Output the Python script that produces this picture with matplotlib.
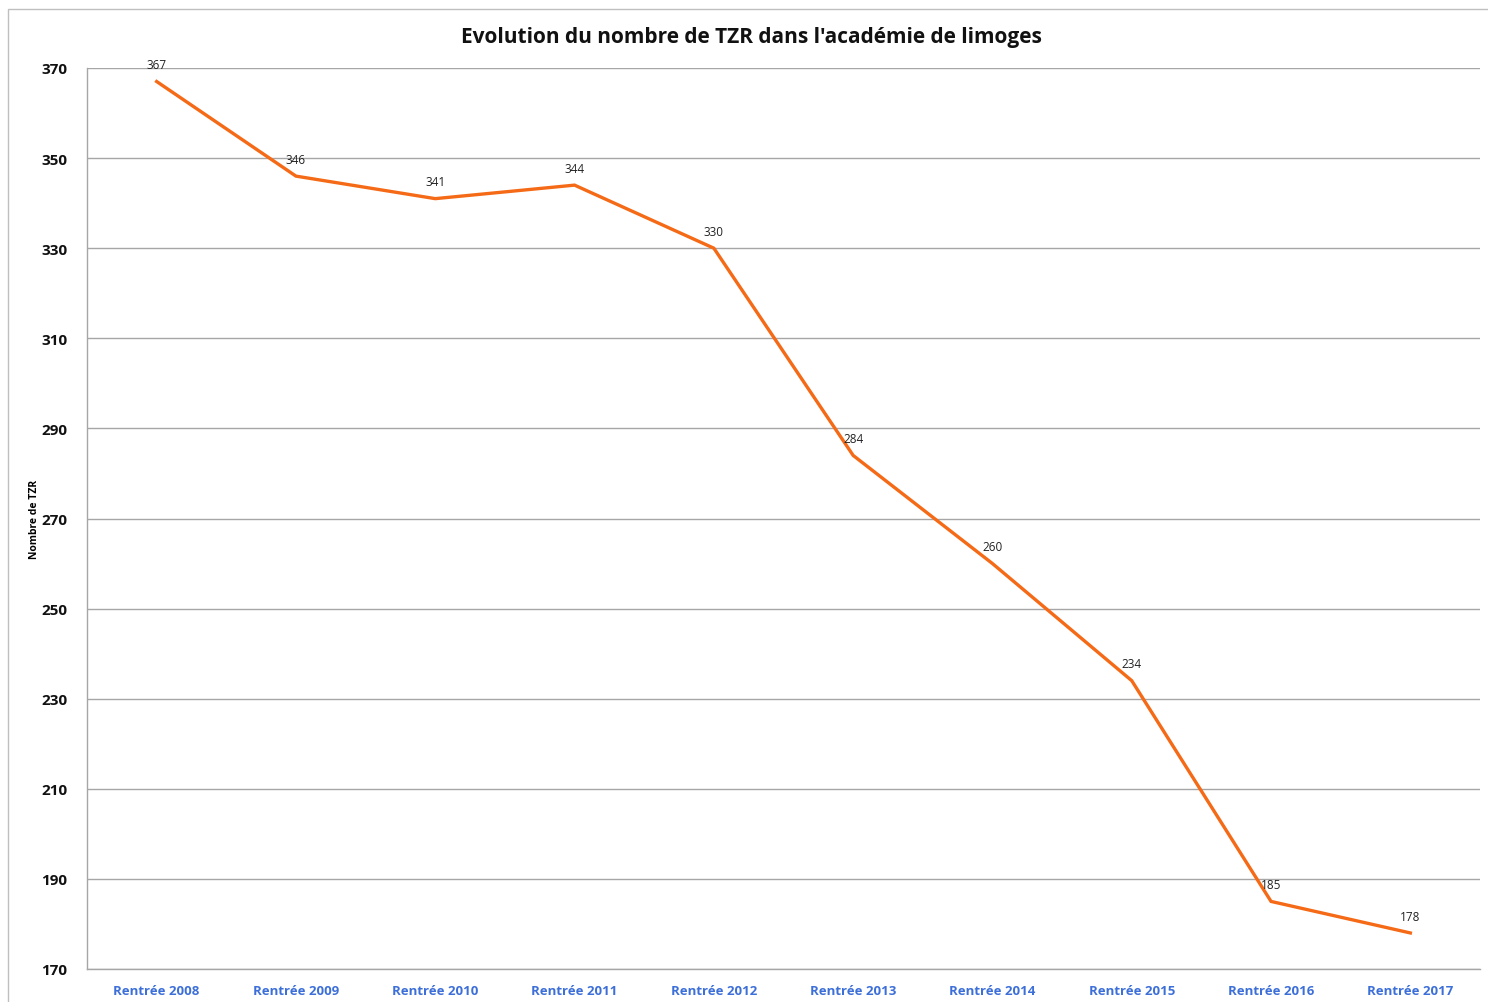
import matplotlib
matplotlib.use("Agg")
import matplotlib.pyplot as plt
from matplotlib.patches import Rectangle

categories = ["Rentrée 2008", "Rentrée 2009", "Rentrée 2010", "Rentrée 2011", "Rentrée 2012",
              "Rentrée 2013", "Rentrée 2014", "Rentrée 2015", "Rentrée 2016", "Rentrée 2017"]
values = [367, 346, 341, 344, 330, 284, 260, 234, 185, 178]
yticks = [170, 190, 210, 230, 250, 270, 290, 310, 330, 350, 370]

plt.rcParams['font.family'] = ['Open Sans', 'DejaVu Sans']

fig = plt.figure(figsize=(14.88, 10.03), dpi=100)
fig.patches.append(Rectangle((8/1488, -0.05), 1.1, 1.05 - 10/1003, transform=fig.transFigure,
                             fill=False, edgecolor='#BFBFBF', linewidth=1.0))
ax = fig.add_axes([87/1488, 1 - 970/1003, (1480-87)/1488, (970-69)/1003])

x = list(range(len(categories)))
ax.plot(x, values, color='#F56A16', linewidth=2.4, solid_joinstyle='miter')
for xi, v in zip(x, values):
    ax.annotate(str(v), (xi, v), xytext=(0, 7.5), textcoords='offset points',
                ha='center', va='bottom', fontsize=8.5, color='#222222')

ax.set_xlim(-0.5, len(categories) - 0.5)
ax.set_ylim(170, 370)
ax.set_yticks(yticks)
ax.set_yticklabels([str(t) for t in yticks], fontsize=11, fontweight='bold', color='#111111')
ax.set_xticks(x)
ax.set_xticklabels(categories, fontsize=9.5, fontweight='bold', color='#3D6FD8')
ax.tick_params(axis='both', length=0)
ax.tick_params(axis='y', pad=14)
ax.tick_params(axis='x', pad=11)
ax.grid(axis='y', color='#A6A6A6', linewidth=1.0)
ax.set_axisbelow(True)
for s in ['top', 'right']:
    ax.spines[s].set_visible(False)
for s in ['left', 'bottom']:
    ax.spines[s].set_color('#A6A6A6')
    ax.spines[s].set_linewidth(1.0)

ax.set_ylabel("Nombre de TZR", fontsize=7.5, fontweight='bold')
ax.yaxis.set_label_coords((40 - 87)/1393, 0.5)
fig.text(751/1488, 1 - 37/1003, "Evolution du nombre de TZR dans l'académie de limoges",
         ha='center', va='center', fontsize=15, fontweight='bold', color='#111111')

fig.savefig("out.png", dpi=100)
